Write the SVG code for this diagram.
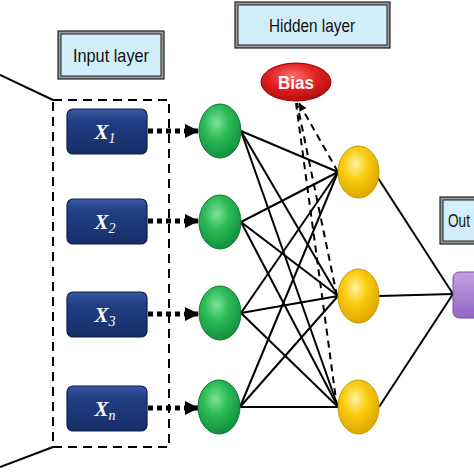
<svg xmlns="http://www.w3.org/2000/svg" width="474" height="474" viewBox="0 0 474 474">
<defs>
<style>
.lbl-out{fill:#9a9a9a;stroke:#222;stroke-width:1.2}
.lbl-in{fill:#d3eefb;stroke:#222;stroke-width:1}
.lbl-t{font-family:"Liberation Sans",Arial,sans-serif;font-size:19px;fill:#111}
.xbox{fill:url(#gBlue);stroke:#0f1f4a;stroke-width:1.2}
.xt{font-family:"Liberation Serif","Times New Roman",serif;font-style:italic;font-weight:bold;fill:#fff;font-size:21px}
.xs{font-size:14px;font-weight:normal}
.green{fill:url(#gGreen);stroke:#0f7a33;stroke-width:1}
.yellow{fill:url(#gYellow);stroke:#c99800;stroke-width:1}
.w{stroke:#000;stroke-width:2;fill:none}
.bias-l{stroke:#000;stroke-width:2;fill:none;stroke-dasharray:7 5}
.dot{stroke:#000;stroke-width:5;fill:none;stroke-dasharray:5 4}
.frame{fill:none;stroke:#000;stroke-width:2;stroke-dasharray:9 6}
</style>
<linearGradient id="gBlue" x1="0" y1="0" x2="0" y2="1">
<stop offset="0" stop-color="#3a5aa6"/>
<stop offset="0.25" stop-color="#223f85"/>
<stop offset="1" stop-color="#172d66"/>
</linearGradient>
<radialGradient id="gGreen" cx="0.42" cy="0.35" r="0.65">
<stop offset="0" stop-color="#7fe39a"/>
<stop offset="0.45" stop-color="#2dbb57"/>
<stop offset="1" stop-color="#139140"/>
</radialGradient>
<radialGradient id="gYellow" cx="0.42" cy="0.35" r="0.65">
<stop offset="0" stop-color="#fff3a0"/>
<stop offset="0.45" stop-color="#f9cc10"/>
<stop offset="1" stop-color="#e0a800"/>
</radialGradient>
<radialGradient id="gRed" cx="0.45" cy="0.35" r="0.7">
<stop offset="0" stop-color="#ff6f6f"/>
<stop offset="0.5" stop-color="#e02020"/>
<stop offset="1" stop-color="#a80c0c"/>
</radialGradient>
<linearGradient id="gPurple" x1="0" y1="0" x2="0" y2="1">
<stop offset="0" stop-color="#c4a0e4"/>
<stop offset="1" stop-color="#9565c4"/>
</linearGradient>
<marker id="ah" markerUnits="userSpaceOnUse" markerWidth="16" markerHeight="16" refX="14" refY="8" orient="auto">
<polygon points="0,1 14,8 0,15" fill="#000"/>
</marker>
<marker id="ahb" markerUnits="userSpaceOnUse" markerWidth="10" markerHeight="10" refX="8" refY="5" orient="auto">
<polygon points="0,1 8,5 0,9" fill="#000"/>
</marker>
</defs>

<g id="connectors">
<line class="w" x1="0" y1="75" x2="53" y2="100"/>
<line class="w" x1="0" y1="467" x2="53" y2="447"/>
<line class="dot" x1="148" y1="131" x2="199" y2="131" marker-end="url(#ah)"/>
<line class="dot" x1="148" y1="221" x2="199" y2="221" marker-end="url(#ah)"/>
<line class="dot" x1="148" y1="314" x2="199" y2="314" marker-end="url(#ah)"/>
<line class="dot" x1="148" y1="408" x2="199" y2="408" marker-end="url(#ah)"/>
<g id="weights">
<line class="w" x1="241" y1="131" x2="338" y2="172"/>
<line class="w" x1="241" y1="131" x2="338" y2="296"/>
<line class="w" x1="241" y1="131" x2="338" y2="407"/>
<line class="w" x1="241" y1="222" x2="338" y2="172"/>
<line class="w" x1="241" y1="222" x2="338" y2="296"/>
<line class="w" x1="241" y1="222" x2="338" y2="407"/>
<line class="w" x1="241" y1="313" x2="338" y2="172"/>
<line class="w" x1="241" y1="313" x2="338" y2="296"/>
<line class="w" x1="241" y1="313" x2="338" y2="407"/>
<line class="w" x1="240" y1="407" x2="338" y2="172"/>
<line class="w" x1="240" y1="407" x2="338" y2="296"/>
<line class="w" x1="240" y1="407" x2="338" y2="407"/>
<line class="w" x1="378" y1="178" x2="453" y2="294"/>
<line class="w" x1="379" y1="296" x2="453" y2="294"/>
<line class="w" x1="379" y1="407" x2="453" y2="294"/>
</g>
<g id="bias-links">
<line class="bias-l" x1="338" y1="172" x2="299" y2="103" marker-end="url(#ahb)"/>
<line class="bias-l" x1="337" y1="296" x2="297" y2="103"/>
<line class="bias-l" x1="337" y1="407" x2="296" y2="103"/>
</g>
</g>

<g id="input-frame">
<rect class="frame" x="53" y="100" width="116" height="347"/>
</g>

<g id="input-layer-label">
<rect class="lbl-out" x="58" y="31" width="106" height="48"/>
<rect class="lbl-in" x="61" y="34" width="100" height="42"/>
<text class="lbl-t" x="111" y="62" text-anchor="middle" textLength="76" lengthAdjust="spacingAndGlyphs">Input layer</text>
</g>

<g id="hidden-layer-label">
<rect class="lbl-out" x="235" y="2" width="155" height="46"/>
<rect class="lbl-in" x="238" y="5" width="149" height="40"/>
<text class="lbl-t" x="312" y="32" text-anchor="middle" textLength="86" lengthAdjust="spacingAndGlyphs">Hidden layer</text>
</g>

<g id="output-layer-label">
<rect class="lbl-out" x="440" y="197" width="60" height="47"/>
<rect class="lbl-in" x="443" y="200" width="54" height="41"/>
<text class="lbl-t" x="448" y="227" font-size="18" textLength="22" lengthAdjust="spacingAndGlyphs">Out</text>
</g>

<g id="x1">
<rect class="xbox" x="67" y="109" width="80" height="45" rx="6"/>
<text class="xt" x="105" y="139" text-anchor="middle">X<tspan class="xs" dy="4">1</tspan></text>
</g>
<g id="x2">
<rect class="xbox" x="67" y="199" width="80" height="45" rx="6"/>
<text class="xt" x="105" y="229" text-anchor="middle">X<tspan class="xs" dy="4">2</tspan></text>
</g>
<g id="x3">
<rect class="xbox" x="67" y="292" width="80" height="45" rx="6"/>
<text class="xt" x="105" y="322" text-anchor="middle">X<tspan class="xs" dy="4">3</tspan></text>
</g>
<g id="xn">
<rect class="xbox" x="67" y="386" width="80" height="45" rx="6"/>
<text class="xt" x="105" y="416" text-anchor="middle">X<tspan class="xs" dy="4">n</tspan></text>
</g>

<g id="h1"><ellipse class="green" cx="220" cy="131" rx="21" ry="27"/></g>
<g id="h2"><ellipse class="green" cx="220" cy="222" rx="21" ry="27"/></g>
<g id="h3"><ellipse class="green" cx="220" cy="313" rx="21" ry="27"/></g>
<g id="h4"><ellipse class="green" cx="219" cy="407" rx="21" ry="27"/></g>

<g id="y1"><ellipse class="yellow" cx="358.5" cy="172" rx="20.5" ry="26"/></g>
<g id="y2"><ellipse class="yellow" cx="358.5" cy="296" rx="20.5" ry="27"/></g>
<g id="y3"><ellipse class="yellow" cx="358.5" cy="407" rx="20.5" ry="27"/></g>

<g id="bias">
<ellipse cx="296" cy="82" rx="35" ry="19" fill="url(#gRed)" stroke="#900" stroke-width="1"/>
<text x="296" y="89" text-anchor="middle" font-family="Liberation Sans,Arial,sans-serif" font-weight="bold" font-size="19" fill="#fff" textLength="36" lengthAdjust="spacingAndGlyphs">Bias</text>
</g>

<g id="output">
<rect x="453" y="272" width="40" height="46" rx="6" fill="url(#gPurple)" stroke="#7d50a8" stroke-width="1"/>
</g>
</svg>
